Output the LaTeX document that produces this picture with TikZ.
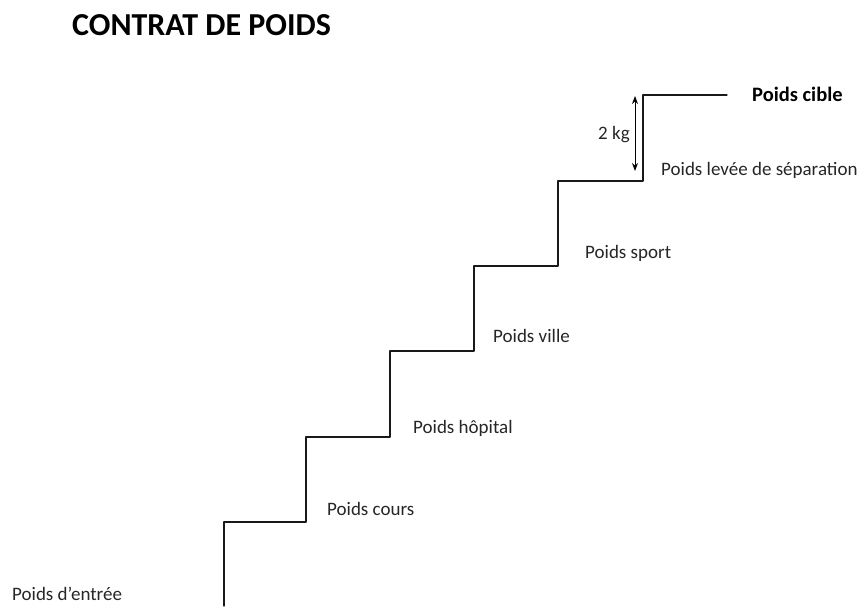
\documentclass[tikz,border=0pt]{standalone}
\usepackage{fontspec}
\setmainfont{Carlito}
\usepackage{tikz}
\usetikzlibrary{arrows.meta}

\begin{document}
\begin{tikzpicture}[x=1pt, y=-1pt, line cap=round, line join=round,
    label/.style={anchor=base west, inner sep=0pt, text=black!85, font=\fontsize{19}{21}\selectfont},
    stair/.style={black!90, line width=1.1pt}]
    \useasboundingbox (0,0) rectangle (859,606);

    % --- 1. Title ---
    \node[anchor=base west, inner sep=0pt, font=\fontsize{32}{35}\selectfont\bfseries] (title) at (72,35) {CONTRAT DE POIDS};

    % --- 2. Staircase ---
    \draw[stair] (224,606) -- (224,522) -- (306,522) -- (306,437) -- (390,437) -- (390,351)
        -- (474,351) -- (474,266) -- (558,266) -- (558,181) -- (643,181) -- (643,95) -- (727,95);

    % --- 3. Step labels ---
    \node[label] (entree) at (12,600) {Poids d’entrée};
    \node[label] (cours) at (327,515) {Poids cours};
    \node[label] (hopital) at (413,433) {Poids hôpital};
    \node[label] (ville) at (493,342) {Poids ville};
    \node[label] (sport) at (585,258) {Poids sport};
    \node[label] (separation) at (661,175) {Poids levée de séparation};
    \node[label, text=black, font=\fontsize{20.5}{23}\selectfont\bfseries] (cible) at (752,101) {Poids cible};

    % --- 4. Last step height ---
    \coordinate (gaptop) at (635,96);
    \coordinate (gapbot) at (635,171);
    \draw[{Stealth[length=8pt,width=6pt]}-{Stealth[length=8pt,width=6pt]}, line width=0.9pt] (gaptop) -- (gapbot);
    \node[label] (gap) at (598,139) {2 kg};
\end{tikzpicture}
\end{document}
